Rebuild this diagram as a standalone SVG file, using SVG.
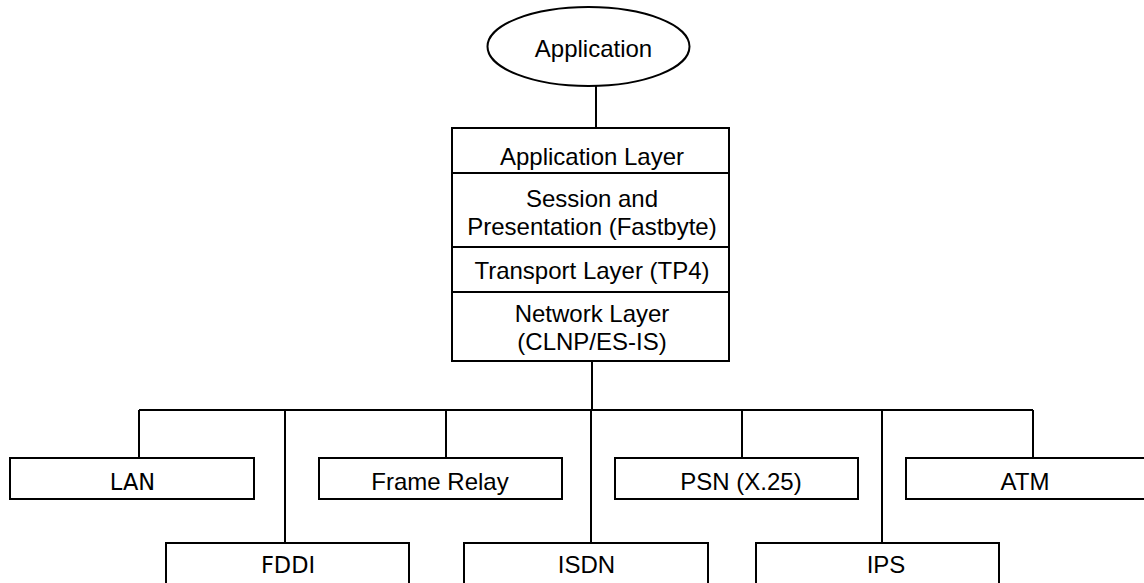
<svg xmlns="http://www.w3.org/2000/svg" width="1144" height="583" viewBox="0 0 1144 583">
<style>
.s{fill:#fff;stroke:#000;stroke-width:2}
.c{fill:none;stroke:#000;stroke-width:2}
.t{font-family:"Liberation Sans",Arial,sans-serif;font-size:24px;fill:#000;text-anchor:middle}
.d{font-family:"DejaVu Sans",sans-serif;font-size:22.5px;fill:#000;text-anchor:middle}
</style>
<rect width="1144" height="583" fill="#fff"/>
<g id="connectors">
<path class="c" d="M596 86V128M592 361V410M139 410H1033M139 410V458M285 410V543M446 410V458M591 410V543M742 410V458M882 410V543M1033 410V458"/>
</g>
<g id="application">
<ellipse class="s" cx="588.5" cy="46.5" rx="101" ry="39.5"/>
<text class="t" x="593.5" y="57">Application</text>
</g>
<g id="stack">
<rect class="s" x="452" y="128" width="277" height="233"/>
<path class="c" d="M452 173H729M452 247H729M452 292H729"/>
<text class="t" x="592" y="165">Application Layer</text>
<text class="t" x="592" y="207">Session and</text>
<text class="t" x="592" y="235">Presentation (Fastbyte)</text>
<text class="t" x="592" y="279">Transport Layer (TP4)</text>
<text class="t" x="592" y="322">Network Layer</text>
<text class="t" x="592" y="350">(CLNP/ES-IS)</text>
</g>
<g id="lan">
<rect class="s" x="10" y="458" width="244" height="41"/>
<text class="d" x="132.5" y="490">LAN</text>
</g>
<g id="frame-relay">
<rect class="s" x="319" y="458" width="243" height="41"/>
<text class="t" x="440" y="490">Frame Relay</text>
</g>
<g id="psn">
<rect class="s" x="615" y="458" width="243" height="41"/>
<text class="t" x="741" y="490">PSN (X.25)</text>
</g>
<g id="atm">
<rect class="s" x="906" y="458" width="244" height="41"/>
<text class="t" x="1025" y="490">ATM</text>
</g>
<g id="fddi">
<rect class="s" x="166" y="543" width="243" height="45"/>
<text class="d" x="288" y="573">FDDI</text>
</g>
<g id="isdn">
<rect class="s" x="464" y="543" width="244" height="45"/>
<text class="t" x="586.5" y="573">ISDN</text>
</g>
<g id="ips">
<rect class="s" x="756" y="543" width="243" height="45"/>
<text class="t" x="886" y="573">IPS</text>
</g>
</svg>
